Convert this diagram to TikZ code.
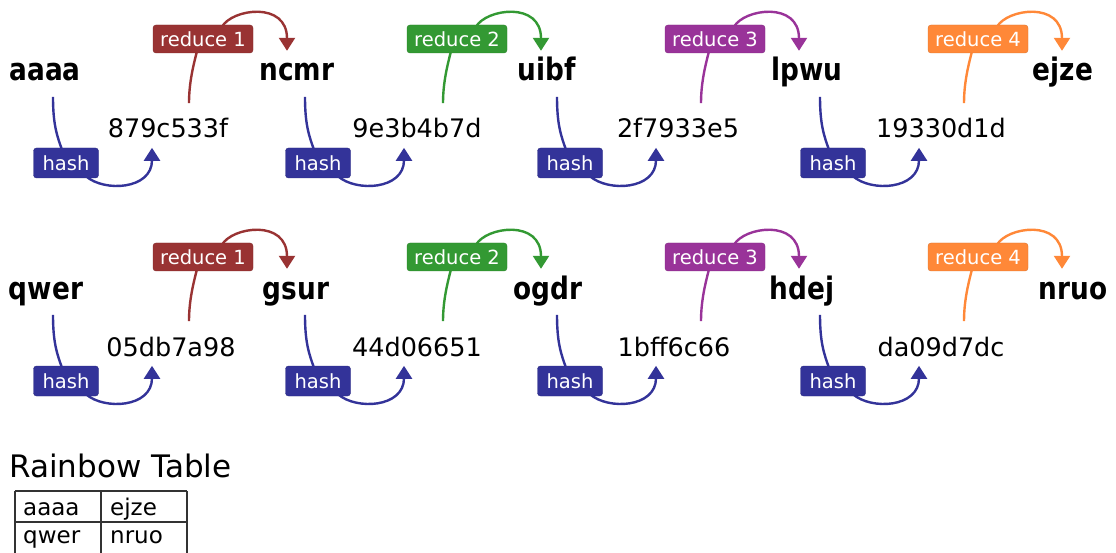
\documentclass[tikz,border=0pt]{standalone}
\usepackage{fontspec}
\setmainfont{DejaVu Sans}
\newfontfamily\wordfamily{DejaVu Sans}[FakeStretch=0.85]
\usetikzlibrary{arrows.meta,backgrounds}

\definecolor{hashblue}{HTML}{333399}
\definecolor{redA}{HTML}{993333}
\definecolor{greenB}{HTML}{339933}
\definecolor{purpleC}{HTML}{993399}
\definecolor{orangeD}{HTML}{FF8838}
\definecolor{gridgray}{HTML}{333333}

\tikzset{
  word/.style={anchor=base, inner sep=0pt,
    font=\wordfamily\bfseries\fontsize{31}{31}\selectfont},
  hashval/.style={anchor=base, inner sep=0pt,
    font=\fontsize{25.5}{25.5}\selectfont},
  tag/.style={rounded corners=3pt, text=white, inner sep=0pt,
    font=\fontsize{19.5}{19.5}\selectfont},
  hashbox/.style={tag, fill=hashblue, draw=hashblue!85!black,
    minimum width=65pt, minimum height=30pt},
  redbox/.style={tag, minimum width=100pt, minimum height=28pt},
  link/.style={line width=2.4pt},
  tip/.style={-{Triangle[width=16pt,length=13pt]}},
  cell/.style={anchor=base west, inner sep=0pt,
    font=\fontsize{23}{23}\selectfont},
}

\begin{document}
\begin{tikzpicture}[x=1pt,y=-1pt]
\useasboundingbox (0,0) rectangle (1116,553);

% plaintext words of both chains
\foreach \c/\w/\wx in {1/aaaa/45, 2/ncmr/297, 3/uibf/547, 4/lpwu/807, 5/ejze/1063}
  \node[word] (w1\c) at (\wx,81) {\w};
\foreach \c/\w/\wx in {1/qwer/46, 2/gsur/296, 3/ogdr/548, 4/hdej/802, 5/nruo/1073}
  \node[word] (w2\c) at (\wx,299) {\w};

% hash and reduce steps: row / column / hash value / value x / hash x / reduce x / colour / row offset
\foreach \r/\c/\val/\vx/\hx/\rx/\col/\dy in {
    1/1/879c533f/168/66/203/redA/0,
    1/2/9e3b4b7d/417/318/457/greenB/0,
    1/3/2f7933e5/678/570/715/purpleC/0,
    1/4/19330d1d/941/833/978/orangeD/0,
    2/1/05db7a98/171/66/203/redA/218,
    2/2/44d06651/417/318/457/greenB/218,
    2/3/1bff6c66/674/570/715/purpleC/218,
    2/4/da09d7dc/941/833/978/orangeD/218}
{
  \node[hashval] (v\r\c) at (\vx,138+\dy) {\val};
  \node[hashbox] (h\r\c) at (\hx,163+\dy) {hash};
  \node[redbox, fill=\col, draw=\col!85!black] (r\r\c) at (\rx,39+\dy) {reduce \c};
  \begin{pgfonlayer}{background}
    % word -> hash box
    \draw[link, hashblue]
      ([xshift=-13pt,yshift=51pt]h\r\c.north) .. controls +(0,28) and +(-5,-14) ..
      ([xshift=-4pt,yshift=-2pt]h\r\c.north);
    % hash box -> hash value
    \draw[link, tip, hashblue]
      ([xshift=20pt,yshift=2pt]h\r\c.south) .. controls +(18,16) and +(0,42) ..
      ([xshift=86pt]h\r\c.north);
    % hash value -> reduce box
    \draw[link, \col]
      ([xshift=-14pt,yshift=-50pt]r\r\c.south) .. controls +(0,-22) and +(-3,12) ..
      ([xshift=-6pt,yshift=2pt]r\r\c.south);
    % reduce box -> next word
    \draw[link, tip, \col]
      ([xshift=19pt,yshift=-2pt]r\r\c.north) .. controls +(10,-18) and +(0,-50) ..
      ([xshift=84pt,yshift=-26pt]r\r\c.north);
  \end{pgfonlayer}
}

% stored start and end points
\node[anchor=base west, inner sep=0pt, font=\fontsize{31}{31}\selectfont]
  (title) at (9,477) {Rainbow Table};
\draw[gridgray, line width=1.4pt]
  (15,491) -- (187,491)
  (15,522) -- (187,522)
  (15,491) -- (15,553)
  (101,491) -- (101,553)
  (187,491) -- (187,553);
\node[cell] (t11) at (23,515) {aaaa};
\node[cell] (t12) at (110,515) {ejze};
\node[cell] (t21) at (23,543) {qwer};
\node[cell] (t22) at (110,543) {nruo};
\end{tikzpicture}
\end{document}
